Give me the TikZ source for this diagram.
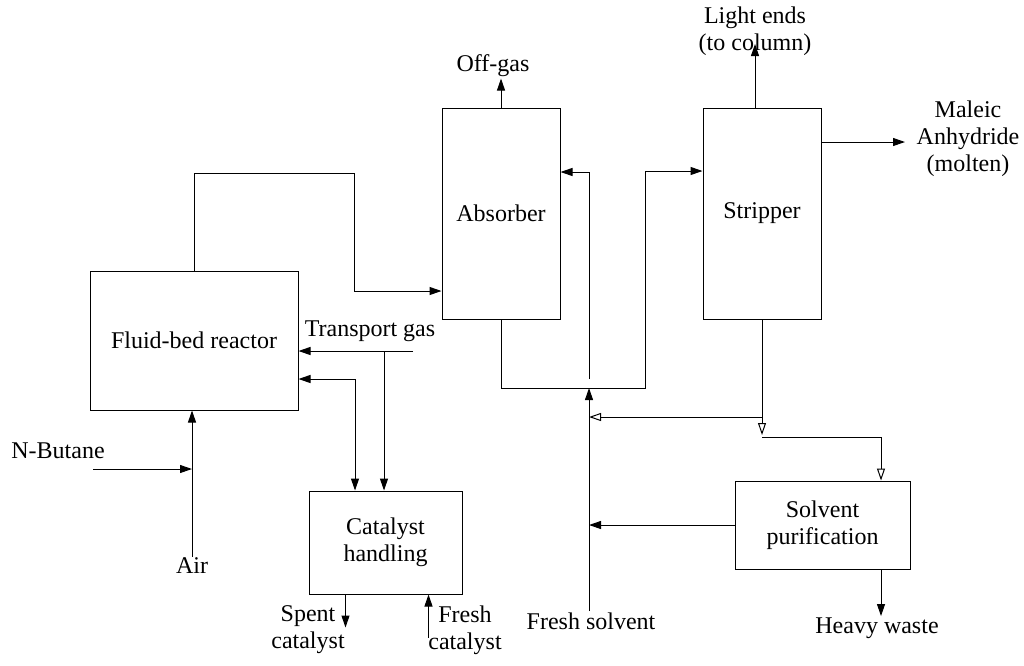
\documentclass[tikz,border=0pt]{standalone}
\usepackage{fontspec}
\setmainfont{Liberation Serif}
\usetikzlibrary{arrows.meta}

\begin{document}
\begin{tikzpicture}[
  x=1pt, y=-1pt,
  line width=1pt,
  every node/.style={font=\fontsize{24}{27}\selectfont,align=center},
  box/.style={draw,inner sep=0pt},
  lbl/.style={inner sep=1pt},
  flow/.style={-{Triangle[length=12pt,width=8pt]}},
  oflow/.style={-{Triangle[open,length=12pt,width=8pt]}},
  twoway/.style={{Triangle[length=12pt,width=8pt]}-{Triangle[length=12pt,width=8pt]}}
]
  \useasboundingbox (0,0) rectangle (1024,665);

  \node[box,minimum width=208pt,minimum height=139pt] (reactor) at (194,340.5) {Fluid-bed reactor};
  \node[box,minimum width=118pt,minimum height=211pt] (absorber) at (501,213.5) {Absorber};
  \node[box,minimum width=118pt,minimum height=211pt] (stripper) at (762,213.5) {Stripper};
  \node[box,minimum width=153pt,minimum height=103pt] (cathandling) at (385.5,542.5) {Catalyst\\handling};
  \node[box,minimum width=175pt,minimum height=88pt] (solvpur) at (822.5,525) {Solvent\\purification};

  \node[lbl] (offgas) at (493,66) {Off-gas};
  \node[lbl] (lightends) at (755,31) {Light ends\\(to column)};
  \node[lbl] (maleic) at (968,139) {Maleic\\Anhydride\\(molten)};
  \node[lbl] (transport) at (370,331) {Transport gas};
  \node[lbl] (nbutane) at (58,451) {N-Butane};
  \node[lbl] (air) at (192,566) {Air};
  \node[lbl] (spent) at (308,630) {Spent\\catalyst};
  \node[lbl] (fresh) at (465,630) {Fresh\\catalyst};
  \node[lbl] (fsolvent) at (591,621) {Fresh solvent};
  \node[lbl] (heavy) at (877,628) {Heavy waste};

  \coordinate (absin) at ([yshift=-77.5pt]absorber.west);
  \coordinate (absret) at ([yshift=41.5pt]absorber.east);
  \coordinate (strin) at ([yshift=42.5pt]stripper.west);
  \coordinate (maout) at ([yshift=71.5pt]stripper.east);
  \coordinate (maend) at (905,142);
  \coordinate (ltip) at ([yshift=-13pt]lightends.center);
  \coordinate (jabs) at (589,388);
  \coordinate (jstr) at (589,417);
  \coordinate (jpur) at (589,525);
  \coordinate (split) at (stripper.south |- jstr);
  \coordinate (splitlow) at ([yshift=-20pt]split);
  \coordinate (purin) at ([xshift=58.5pt]solvpur.north);
  \coordinate (hw) at ([xshift=58.5pt]solvpur.south);
  \coordinate (tgin) at (413,351);
  \coordinate (tgsplit) at (384,351);
  \coordinate (catret) at (355,379);
  \coordinate (nbin) at (93,469);
  \coordinate (cs) at ([xshift=37pt]cathandling.south west);
  \coordinate (cf) at ([xshift=-34pt]cathandling.south east);

  \draw[flow] (reactor.north) |- (354,173) |- (absin);
  \draw[flow] (absorber.north) -- (absorber.north |- offgas.south);
  \draw[flow] (absorber.south) |- (645,388) |- (strin);
  \draw[flow] (stripper.north -| lightends) -- (ltip);
  \draw[flow] (maout) -- (maend);
  \draw[flow] (fsolvent.north -| jabs) -- (jabs);
  \draw[flow] ([yshift=9pt]jabs) |- (absret);
  \draw (stripper.south) -- (split);
  \draw[oflow] (split) -- ([yshift=-18pt]split);
  \draw[oflow] (splitlow) -| (purin);
  \draw[oflow] (split) -- (jstr);
  \draw[flow] (solvpur.west) -- (jpur);
  \draw[flow] (hw) -- (hw |- heavy.north);

  \draw[flow] (tgin) -- (reactor.east |- tgin);
  \draw[flow] (tgsplit) -- (tgsplit |- cathandling.north);
  \draw[twoway] (reactor.east |- catret) -- (catret) -- (catret |- cathandling.north);
  \draw[flow] (nbin) -- (air.north |- nbin);
  \draw[flow] (air.north) -- (air.north |- reactor.south);
  \draw[flow] (cs) -- ([yshift=-33pt]cs);
  \draw[flow] ([yshift=-43pt]cf) -- (cf);
\end{tikzpicture}
\end{document}
